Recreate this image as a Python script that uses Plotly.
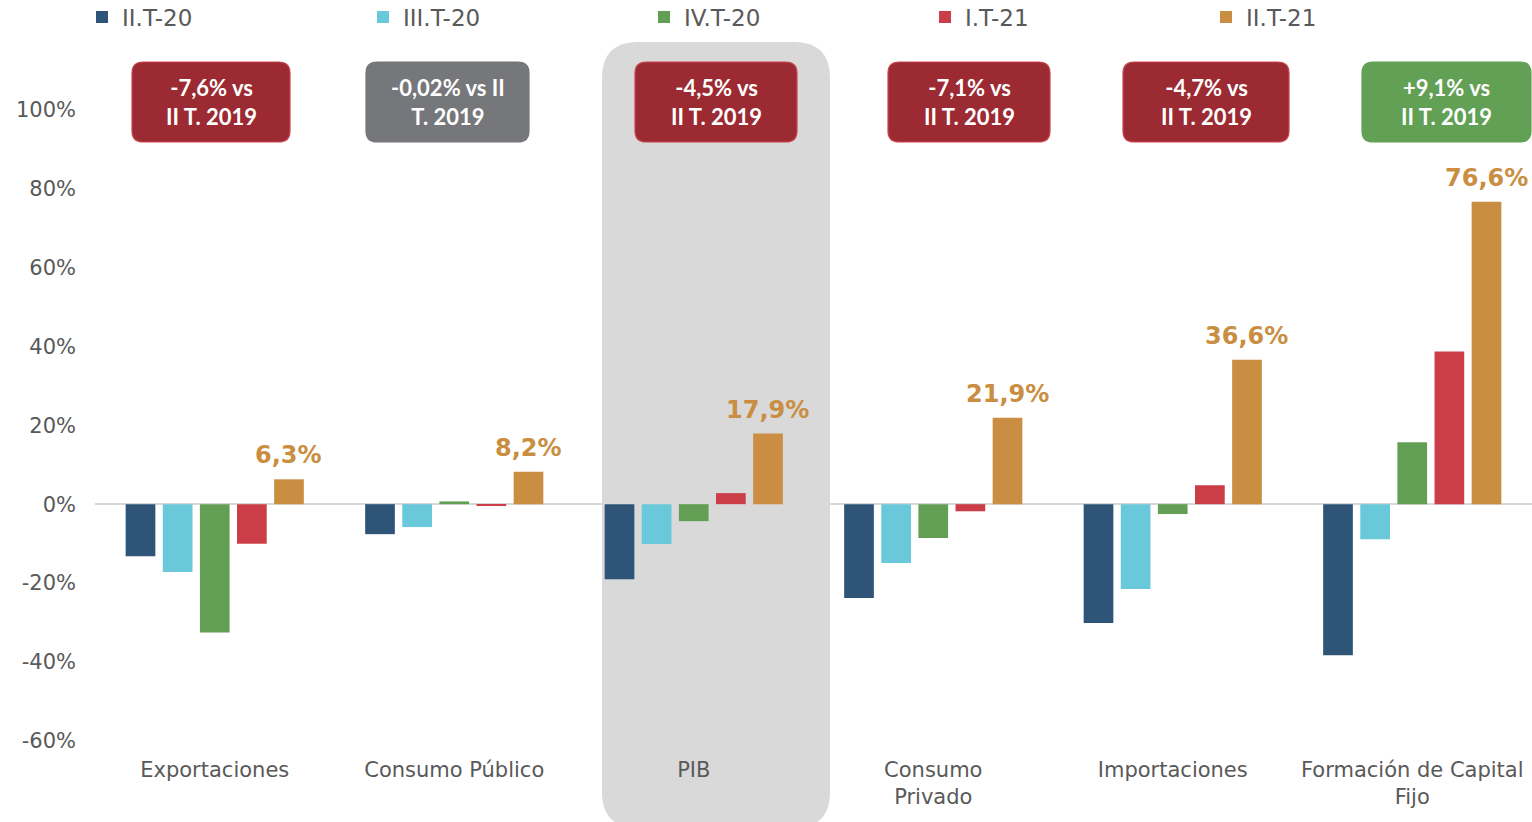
import plotly.graph_objects as go

# ---------------- data ----------------
categories = ["Exportaciones", "Consumo Público", "PIB", "Consumo Privado",
              "Importaciones", "Formación de Capital Fijo"]
category_ticktext = ["Exportaciones", "Consumo Público", "PIB", "Consumo<br>Privado",
                     "Importaciones", "Formación de Capital<br>Fijo"]
series_names = ["II.T-20", "III.T-20", "IV.T-20", "I.T-21", "II.T-21"]
s_2t20 = [-13.2, -7.6, -19.0, -23.8, -30.1, -38.3]
s_3t20 = [-17.2, -5.8, -10.1, -14.9, -21.5, -8.9]
s_4t20 = [-32.5, 0.7, -4.3, -8.6, -2.5, 15.7]
s_1t21 = [-10.0, -0.3, 2.8, -1.8, 4.8, 38.7]
s_2t21 = [6.3, 8.2, 17.9, 21.9, 36.6, 76.6]
series_values = [s_2t20, s_3t20, s_4t20, s_1t21, s_2t21]
y_tickvals = [-60, -40, -20, 0, 20, 40, 60, 80, 100]
y_ticktext = [f"{v}%" for v in y_tickvals]
box_texts = ["-7,6% vs<br>II T. 2019", "-0,02% vs II<br>T. 2019", "-4,5% vs<br>II T. 2019",
             "-7,1% vs<br>II T. 2019", "-4,7% vs<br>II T. 2019", "+9,1% vs<br>II T. 2019"]
box_kind = ["neg", "flat", "neg", "neg", "neg", "pos"]

# ---------------- style ----------------
W, H = 1532, 822
ML, MR, MT, MB = 95, 0, 70, 81
PW, PH = W - ML - MR, H - MT - MB
series_colors = ["#2e5477", "#69c8da", "#629f55", "#cb3e48", "#c98e42"]
box_fill = {"neg": "#9c2a33", "flat": "#76777b", "pos": "#62a055"}
box_line = {"neg": "#c9454e", "flat": "#76777b", "pos": "#62a055"}
# box pixel extents (left, right) and vertical extent
box_px = [(132, 290), (366, 529), (635, 797), (888, 1050), (1123, 1289), (1362, 1531)]
box_top, box_bot = 62, 142
panel_px = (602, 830, 42, 828)  # highlighted PIB panel
text_gray = "#595959"
bargap = 0.225
bargroupgap = 0.2


def px_x(p):
    return (p - ML) / PW


def px_y(p):
    return (H - MB - p) / PH


def rounded_path(x0, x1, y0, y1, r):
    # pixel coords -> paper path with rounded corners
    rx, ry = r / PW, r / PH
    X0, X1 = px_x(x0), px_x(x1)
    Yt, Yb = px_y(y0), px_y(y1)
    return (f"M{X0+rx},{Yt} L{X1-rx},{Yt} Q{X1},{Yt} {X1},{Yt-ry} "
            f"L{X1},{Yb+ry} Q{X1},{Yb} {X1-rx},{Yb} L{X0+rx},{Yb} "
            f"Q{X0},{Yb} {X0},{Yb+ry} L{X0},{Yt-ry} Q{X0},{Yt} {X0+rx},{Yt} Z")


fig = go.Figure()
for name, vals, col in zip(series_names, series_values, series_colors):
    fig.add_trace(go.Bar(name=name, x=categories, y=vals, marker_color=col,
                         marker_line_width=0))

shapes = [dict(type="path", xref="paper", yref="paper",
               path=rounded_path(*panel_px, 36), fillcolor="#d9d9d9",
               line_width=0, layer="below")]
annotations = []
for (x0, x1), txt, kind in zip(box_px, box_texts, box_kind):
    shapes.append(dict(type="path", xref="paper", yref="paper",
                       path=rounded_path(x0, x1, box_top, box_bot, 11),
                       fillcolor=box_fill[kind], line=dict(color=box_line[kind], width=1.2),
                       layer="above"))
    annotations.append(dict(xref="paper", yref="paper", x=px_x((x0 + x1) / 2),
                            y=px_y((box_top + box_bot) / 2), text=f"<b>{txt}</b>",
                            showarrow=False, xanchor="center", yanchor="middle",
                            font=dict(family="Lato, Open Sans, sans-serif", size=22, color="white")))

# value labels for last series
slot = PW / len(categories) * (1 - bargap) / len(series_names)
for cat, v in zip(categories, s_2t21):
    annotations.append(dict(x=cat, y=v, xref="x", yref="y", showarrow=False,
                            text=f"<b>{v:.1f}%</b>".replace(".", ","),
                            xshift=2 * slot, yshift=8, yanchor="bottom",
                            font=dict(family="DejaVu Sans", size=24, color="#c98e42")))

fig.update_layout(
    width=W, height=H, autosize=False,
    margin=dict(l=ML, r=MR, t=MT, b=MB, autoexpand=False),
    paper_bgcolor="white", plot_bgcolor="rgba(0,0,0,0)",
    barmode="group", bargap=bargap, bargroupgap=bargroupgap,
    shapes=shapes, annotations=annotations,
    font=dict(family="DejaVu Sans", color=text_gray),
    legend=dict(orientation="h", x=px_x(82), y=px_y(17), xanchor="left", yanchor="middle",
                entrywidth=236, entrywidthmode="pixels", itemclick=False,
                font=dict(family="DejaVu Sans", size=23, color=text_gray),
                bgcolor="rgba(0,0,0,0)"),
    xaxis=dict(tickmode="array", tickvals=categories, ticktext=category_ticktext,
               tickfont=dict(family="DejaVu Sans", size=21, color=text_gray),
               showgrid=False, showline=False, ticks="", ticklabelstandoff=14),
    yaxis=dict(range=[-60, 110], tickmode="array", tickvals=y_tickvals, ticktext=y_ticktext,
               tickfont=dict(family="DejaVu Sans", size=21, color=text_gray),
               showgrid=False, showline=False, zeroline=True, zerolinecolor="#d9d9d9",
               zerolinewidth=2, ticklabelstandoff=18),
)

fig.write_html("out.html", config={"displayModeBar": False},
               post_script="document.body.style.margin='0';document.body.style.overflow='hidden';")
